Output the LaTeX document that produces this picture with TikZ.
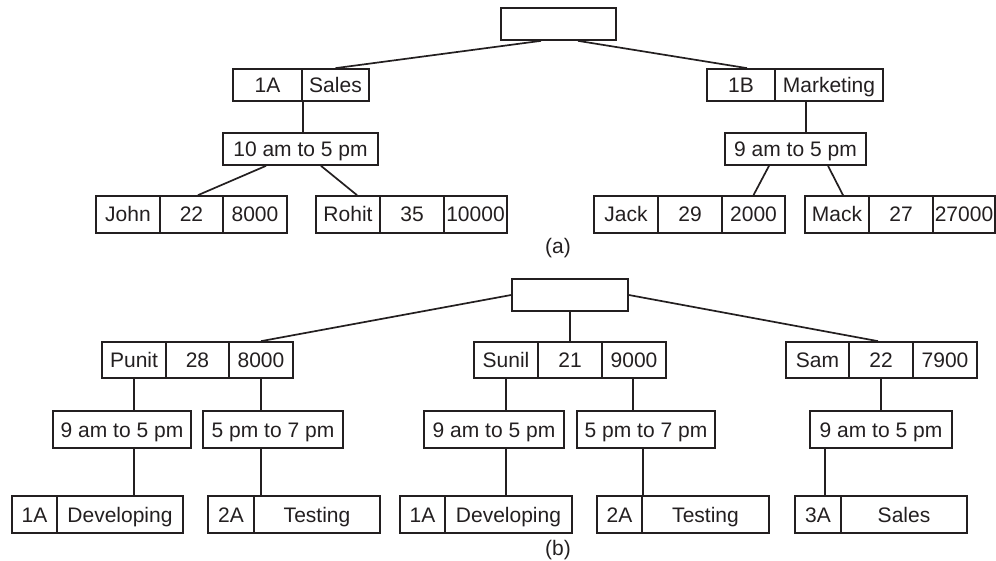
\documentclass[tikz,border=0pt]{standalone}
\usepackage{fontspec}
\setmainfont{Liberation Sans}
\definecolor{ink}{RGB}{35,31,32}
\newcommand\mycell[6]{\node[cell, minimum width=#4pt, minimum height=#5pt] (#1) at (#2,#3) {#6};}
\begin{document}
\begin{tikzpicture}[x=1pt,y=-1pt,
  cell/.style={draw=ink, line width=1.7pt, inner sep=0pt, text height=15pt, text depth=0pt, font=\fontsize{21}{25}\selectfont, text=ink},
  conn/.style={draw=ink, line width=1.7pt},
  lbl/.style={inner sep=0pt, font=\fontsize{21}{25}\selectfont, text=ink}]
\useasboundingbox (0,0) rectangle (996,561);

% ---------- (a) ----------
\mycell{rootA}{558.5}{24}{115}{32}{}
\mycell{a1A}{267.5}{85}{69}{32}{1A}
\mycell{aSales}{335.5}{85}{67}{32}{Sales}
\mycell{a1B}{741}{85}{68}{32}{1B}
\mycell{aMkt}{829}{85}{108}{32}{Marketing}
\mycell{t10}{300.5}{149}{155}{32}{10 am to 5 pm}
\mycell{t9a}{795.5}{149}{141}{32}{9 am to 5 pm}
\mycell{john}{128}{214.5}{64}{37}{John}
\mycell{john22}{191.5}{214.5}{63}{37}{22}
\mycell{john8}{255}{214.5}{64}{37}{8000}
\mycell{rohit}{348}{214.5}{64}{37}{Rohit}
\mycell{rohit35}{412}{214.5}{64}{37}{35}
\mycell{rohit10}{475.5}{214.5}{63}{37}{10000}
\mycell{jack}{626}{214.5}{64}{37}{Jack}
\mycell{jack29}{690}{214.5}{64}{37}{29}
\mycell{jack2}{753.5}{214.5}{63}{37}{2000}
\mycell{mack}{837}{214.5}{64}{37}{Mack}
\mycell{mack27}{901}{214.5}{64}{37}{27}
\mycell{mack27k}{964}{214.5}{62}{37}{27000}
\node[lbl] (labA) at (558,248) {(a)};

\draw[conn] ([xshift=-17.5pt]rootA.south) -- (aSales.north);
\draw[conn] ([xshift=19.5pt]rootA.south) -- ([xshift=6pt]a1B.north);
\draw[conn] (a1A.south east) -- (a1A.south east |- t10.north);
\draw[conn] ([xshift=-34.5pt]t10.south) -- ([xshift=6.5pt]john22.north);
\draw[conn] ([xshift=20.5pt]t10.south) -- ([xshift=9pt]rohit.north);
\draw[conn] ([xshift=-23pt]aMkt.south) -- ([xshift=-23pt]aMkt.south |- t9a.north);
\draw[conn] ([xshift=-26.5pt]t9a.south) -- (jack2.north);
\draw[conn] ([xshift=32.5pt]t9a.south) -- ([xshift=6pt]mack.north);

% ---------- (b) ----------
\mycell{rootB}{570}{295}{116}{32}{}
\mycell{punit}{134}{360}{64}{36}{Punit}
\mycell{punit28}{197.5}{360}{63}{36}{28}
\mycell{punit8}{261}{360}{64}{36}{8000}
\mycell{sunil}{506}{360}{64}{36}{Sunil}
\mycell{sunil21}{570}{360}{64}{36}{21}
\mycell{sunil9}{634}{360}{64}{36}{9000}
\mycell{sam}{817.5}{360}{63}{36}{Sam}
\mycell{sam22}{881}{360}{64}{36}{22}
\mycell{sam79}{945}{360}{64}{36}{7900}
\mycell{tb1}{122}{429.5}{138}{37}{9 am to 5 pm}
\mycell{tb2}{273}{429.5}{140}{37}{5 pm to 7 pm}
\mycell{tb3}{494}{429.5}{140}{37}{9 am to 5 pm}
\mycell{tb4}{646}{429.5}{138}{37}{5 pm to 7 pm}
\mycell{tb5}{881}{429.5}{142}{37}{9 am to 5 pm}
\mycell{d1a}{34.5}{514.5}{45}{37}{1A}
\mycell{d1b}{120}{514.5}{126}{37}{Developing}
\mycell{d2a}{231}{514.5}{46}{37}{2A}
\mycell{d2b}{317}{514.5}{126}{37}{Testing}
\mycell{d3a}{422.5}{514.5}{45}{37}{1A}
\mycell{d3b}{508.5}{514.5}{127}{37}{Developing}
\mycell{d4a}{619.5}{514.5}{45}{37}{2A}
\mycell{d4b}{705.5}{514.5}{127}{37}{Testing}
\mycell{d5a}{818}{514.5}{46}{37}{3A}
\mycell{d5b}{904}{514.5}{126}{37}{Sales}
\node[lbl] (labB) at (558,550) {(b)};

\draw[conn] (rootB.west) -- (punit8.north);
\draw[conn] (rootB.south) -- (sunil21.north);
\draw[conn] (rootB.east) -- ([xshift=-3pt]sam22.north);
\draw[conn] (punit.south) -- (punit.south |- tb1.north);
\draw[conn] (punit.south |- tb1.south) -- (punit.south |- d1b.north);
\draw[conn] (punit8.south) -- (punit8.south |- tb2.north);
\draw[conn] (punit8.south |- tb2.south) -- (punit8.south |- d2b.north);
\draw[conn] (sunil.south) -- (sunil.south |- tb3.north);
\draw[conn] (sunil.south |- tb3.south) -- (sunil.south |- d3b.north);
\draw[conn] ([xshift=-1pt]sunil9.south) -- ([xshift=-1pt]sunil9.south |- tb4.north);
\draw[conn] (d4a.north east |- tb4.south) -- (d4a.north east);
\draw[conn] (sam22.south) -- (sam22.south |- tb5.north);
\draw[conn] ([xshift=-56pt]tb5.south) -- ([xshift=-56pt]tb5.south |- d5a.north);
\end{tikzpicture}
\end{document}
